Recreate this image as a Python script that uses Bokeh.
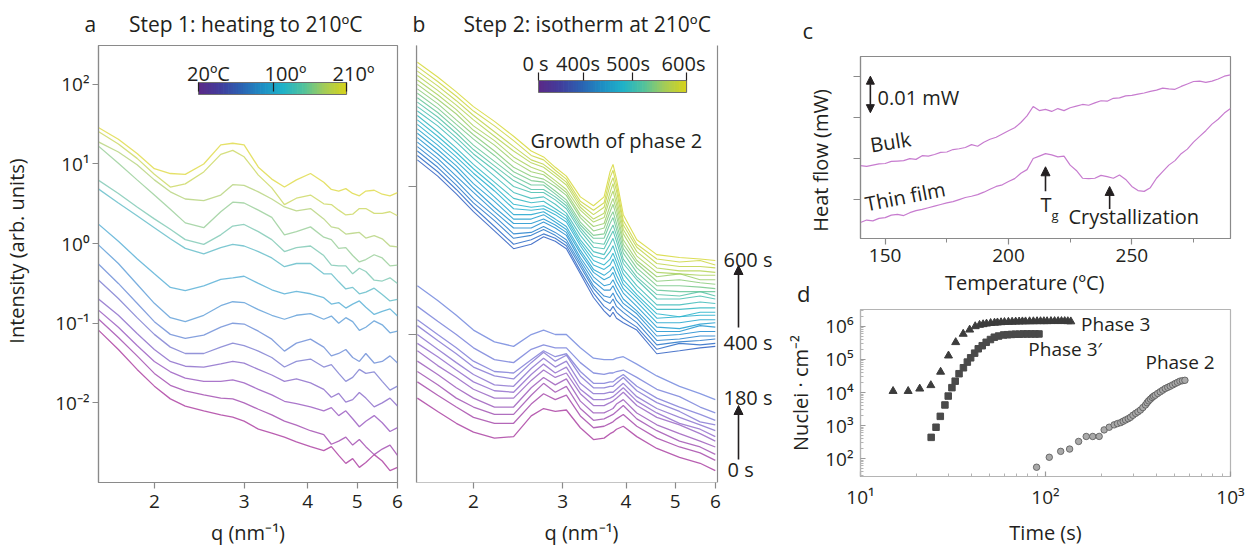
import numpy as np
from bokeh.plotting import figure
from bokeh.layouts import row, column
from bokeh.models import (Range1d, FixedTicker, CustomJSTickFormatter, Label,
                          Arrow, NormalHead, BoxAnnotation, Div)
from bokeh.embed import file_html
from bokeh.resources import INLINE

FONT = "Open Sans"
INK = "#231f20"
FRAME = "#8a8a8a"
NB = "\u00a0"

# ---------------- data: panel a (heating to 210 C), log10 intensity ----------------
a_q = [1.55, 1.7, 1.85, 2.0, 2.15, 2.3, 2.5, 2.7, 2.85, 3.0, 3.2, 3.4, 3.6, 3.8, 4.05,
       4.3, 4.45, 4.6, 4.75, 4.9, 5.05, 5.2, 5.4, 5.6, 5.8, 6.0]
# curves from 210 C (top) down to 20 C (bottom)
a_log_intensity = [
    [1.46, 1.31, 1.13, 0.94, 0.88, 0.87, 1.00, 1.24, 1.26, 1.24, 0.96, 0.81, 0.71, 0.80, 0.88, 0.77, 0.68, 0.66, 0.69, 0.63, 0.60, 0.66, 0.67, 0.62, 0.60, 0.64],
    [1.41, 1.25, 1.07, 0.87, 0.71, 0.75, 0.90, 1.12, 1.17, 1.09, 0.86, 0.70, 0.49, 0.57, 0.61, 0.50, 0.49, 0.42, 0.36, 0.37, 0.44, 0.44, 0.38, 0.38, 0.40, 0.35],
    [1.28, 1.15, 0.99, 0.80, 0.65, 0.56, 0.54, 0.61, 0.74, 0.73, 0.65, 0.56, 0.46, 0.41, 0.44, 0.31, 0.21, 0.19, 0.12, 0.13, 0.14, 0.07, 0.10, 0.06, -0.03, -0.04],
    [1.23, 1.01, 0.80, 0.61, 0.43, 0.26, 0.20, 0.40, 0.52, 0.51, 0.42, 0.33, 0.11, 0.15, 0.21, 0.08, 0.05, -0.06, -0.05, -0.15, -0.23, -0.20, -0.14, -0.18, -0.28, -0.27],
    [0.80, 0.63, 0.46, 0.31, 0.18, 0.05, -0.01, 0.11, 0.22, 0.24, 0.15, 0.05, -0.10, -0.05, -0.03, -0.15, -0.27, -0.28, -0.28, -0.38, -0.31, -0.35, -0.46, -0.47, -0.43, -0.50],
    [0.69, 0.51, 0.35, 0.20, 0.06, -0.06, -0.13, -0.05, -0.01, -0.03, -0.10, -0.18, -0.29, -0.25, -0.25, -0.38, -0.38, -0.48, -0.57, -0.55, -0.63, -0.61, -0.56, -0.64, -0.72, -0.70],
    [0.25, 0.03, -0.19, -0.38, -0.55, -0.59, -0.53, -0.45, -0.43, -0.41, -0.50, -0.58, -0.63, -0.60, -0.63, -0.68, -0.76, -0.74, -0.81, -0.76, -0.72, -0.80, -0.89, -0.85, -0.82, -0.91],
    [-0.01, -0.25, -0.51, -0.75, -0.93, -0.98, -0.90, -0.78, -0.73, -0.74, -0.83, -0.90, -0.95, -0.90, -0.88, -0.95, -0.91, -1.00, -0.93, -0.98, -1.09, -1.05, -0.97, -1.02, -1.12, -1.10],
    [-0.25, -0.50, -0.75, -0.98, -1.14, -1.19, -1.15, -1.05, -1.00, -1.01, -1.10, -1.20, -1.35, -1.25, -1.20, -1.30, -1.41, -1.38, -1.33, -1.43, -1.48, -1.38, -1.50, -1.48, -1.41, -1.50],
    [-0.45, -0.69, -0.93, -1.14, -1.30, -1.38, -1.38, -1.30, -1.25, -1.28, -1.35, -1.43, -1.55, -1.48, -1.45, -1.55, -1.52, -1.63, -1.73, -1.68, -1.58, -1.63, -1.61, -1.73, -1.84, -1.79],
    [-0.69, -0.90, -1.13, -1.33, -1.48, -1.54, -1.55, -1.51, -1.48, -1.50, -1.58, -1.65, -1.73, -1.70, -1.75, -1.83, -1.93, -1.88, -1.99, -1.96, -1.87, -1.94, -2.05, -2.00, -1.94, -2.04],
    [-0.83, -1.05, -1.28, -1.48, -1.61, -1.69, -1.73, -1.73, -1.71, -1.75, -1.83, -1.90, -1.98, -2.01, -2.05, -2.10, -2.06, -2.16, -2.10, -2.20, -2.30, -2.23, -2.16, -2.25, -2.36, -2.31],
    [-0.94, -1.18, -1.41, -1.63, -1.78, -1.85, -1.90, -1.94, -1.95, -2.00, -2.08, -2.15, -2.23, -2.28, -2.35, -2.40, -2.52, -2.48, -2.43, -2.53, -2.46, -2.55, -2.65, -2.58, -2.53, -2.66],
    [-1.08, -1.33, -1.58, -1.79, -1.95, -2.04, -2.10, -2.15, -2.18, -2.23, -2.33, -2.38, -2.43, -2.49, -2.55, -2.60, -2.55, -2.66, -2.76, -2.70, -2.81, -2.75, -2.65, -2.73, -2.85, -2.81],
]

# ---------------- data: panel b (isotherm at 210 C), log10 intensity ----------------
b_q = [1.55, 1.7, 1.85, 2.0, 2.2, 2.4, 2.6, 2.75, 2.9, 3.05, 3.25, 3.45, 3.62, 3.72, 3.77,
       3.83, 3.95, 4.2, 4.6, 5.1, 5.6, 6.0]
# 400 s (bottom of the upper family) to 600 s (top)
b_log_intensity_400_600s = [
    [0.18, 0.07, -0.05, -0.17, -0.30, -0.42, -0.39, -0.34, -0.37, -0.42, -0.59, -0.75, -0.84, -0.88, -0.85, -0.89, -0.92, -0.97, -1.13, -1.11, -1.09, -1.08],
    [0.21, 0.10, -0.02, -0.14, -0.27, -0.39, -0.36, -0.32, -0.35, -0.40, -0.57, -0.72, -0.81, -0.84, -0.81, -0.85, -0.89, -0.95, -1.10, -1.06, -1.07, -1.06],
    [0.24, 0.13, 0.01, -0.11, -0.23, -0.35, -0.33, -0.29, -0.33, -0.38, -0.54, -0.69, -0.77, -0.79, -0.76, -0.81, -0.85, -0.92, -1.07, -1.05, -1.04, -1.03],
    [0.27, 0.16, 0.04, -0.08, -0.20, -0.32, -0.31, -0.27, -0.31, -0.36, -0.52, -0.67, -0.74, -0.75, -0.72, -0.77, -0.82, -0.89, -1.04, -1.03, -1.01, -1.01],
    [0.30, 0.19, 0.07, -0.04, -0.17, -0.28, -0.28, -0.24, -0.28, -0.33, -0.50, -0.64, -0.70, -0.70, -0.67, -0.72, -0.79, -0.86, -1.01, -1.00, -0.98, -0.98],
    [0.33, 0.22, 0.11, -0.01, -0.14, -0.25, -0.25, -0.22, -0.26, -0.31, -0.48, -0.61, -0.67, -0.66, -0.63, -0.68, -0.76, -0.84, -0.98, -0.98, -0.94, -0.95],
    [0.36, 0.25, 0.14, 0.02, -0.10, -0.22, -0.22, -0.19, -0.24, -0.29, -0.45, -0.58, -0.63, -0.61, -0.58, -0.64, -0.72, -0.81, -0.95, -0.96, -0.93, -0.92],
    [0.39, 0.28, 0.17, 0.06, -0.07, -0.19, -0.19, -0.17, -0.22, -0.27, -0.43, -0.56, -0.60, -0.57, -0.54, -0.60, -0.69, -0.78, -0.92, -0.92, -0.90, -0.90],
    [0.42, 0.31, 0.20, 0.09, -0.03, -0.15, -0.16, -0.15, -0.19, -0.24, -0.40, -0.53, -0.56, -0.53, -0.49, -0.55, -0.66, -0.75, -0.89, -0.88, -0.87, -0.87],
    [0.45, 0.34, 0.23, 0.12, 0.00, -0.12, -0.14, -0.13, -0.17, -0.22, -0.38, -0.50, -0.53, -0.49, -0.45, -0.51, -0.63, -0.73, -0.86, -0.88, -0.85, -0.85],
    [0.48, 0.37, 0.26, 0.15, 0.03, -0.08, -0.11, -0.10, -0.15, -0.20, -0.36, -0.47, -0.49, -0.44, -0.40, -0.47, -0.59, -0.70, -0.83, -0.83, -0.82, -0.82],
    [0.51, 0.41, 0.30, 0.19, 0.07, -0.04, -0.08, -0.07, -0.12, -0.18, -0.33, -0.44, -0.46, -0.39, -0.35, -0.42, -0.56, -0.67, -0.80, -0.80, -0.78, -0.79],
    [0.54, 0.44, 0.33, 0.22, 0.11, 0.00, -0.04, -0.04, -0.09, -0.15, -0.30, -0.41, -0.42, -0.34, -0.30, -0.37, -0.52, -0.63, -0.76, -0.76, -0.74, -0.76],
    [0.57, 0.47, 0.36, 0.25, 0.14, 0.04, -0.02, -0.02, -0.07, -0.13, -0.28, -0.38, -0.39, -0.30, -0.26, -0.33, -0.49, -0.61, -0.73, -0.74, -0.71, -0.74],
    [0.60, 0.50, 0.39, 0.28, 0.17, 0.07, 0.01, 0.01, -0.05, -0.11, -0.26, -0.35, -0.35, -0.25, -0.21, -0.29, -0.45, -0.58, -0.70, -0.71, -0.71, -0.71],
    [0.63, 0.53, 0.42, 0.32, 0.21, 0.10, 0.04, 0.03, -0.03, -0.09, -0.24, -0.33, -0.32, -0.21, -0.17, -0.25, -0.42, -0.55, -0.67, -0.67, -0.68, -0.69],
    [0.66, 0.56, 0.45, 0.35, 0.24, 0.13, 0.07, 0.05, 0.00, -0.06, -0.21, -0.30, -0.28, -0.17, -0.12, -0.20, -0.39, -0.52, -0.64, -0.63, -0.65, -0.66],
    [0.69, 0.59, 0.49, 0.38, 0.28, 0.17, 0.10, 0.08, 0.02, -0.04, -0.19, -0.27, -0.25, -0.13, -0.08, -0.16, -0.36, -0.50, -0.61, -0.59, -0.63, -0.63],
    [0.72, 0.62, 0.52, 0.41, 0.31, 0.20, 0.13, 0.10, 0.04, -0.02, -0.16, -0.24, -0.21, -0.08, -0.03, -0.12, -0.32, -0.47, -0.58, -0.59, -0.60, -0.60],
    [0.75, 0.65, 0.55, 0.45, 0.34, 0.24, 0.16, 0.13, 0.07, 0.01, -0.14, -0.22, -0.18, -0.04, 0.02, -0.08, -0.29, -0.44, -0.55, -0.57, -0.57, -0.58],
    [0.78, 0.68, 0.58, 0.48, 0.37, 0.27, 0.18, 0.15, 0.09, 0.03, -0.12, -0.19, -0.14, 0.01, 0.06, -0.03, -0.26, -0.41, -0.52, -0.54, -0.54, -0.55],
    [0.81, 0.71, 0.61, 0.51, 0.41, 0.31, 0.21, 0.18, 0.11, 0.05, -0.10, -0.16, -0.11, 0.06, 0.11, 0.01, -0.23, -0.39, -0.49, -0.51, -0.50, -0.53],
    [0.84, 0.74, 0.64, 0.54, 0.44, 0.34, 0.24, 0.20, 0.13, 0.07, -0.07, -0.13, -0.07, 0.10, 0.15, 0.05, -0.19, -0.36, -0.46, -0.48, -0.49, -0.50],
]
# 180 s (top of the lower family) to 0 s (bottom)
b_log_intensity_0_180s = [
    [-0.67, -0.77, -0.87, -0.97, -1.05, -1.08, -1.00, -0.97, -1.00, -1.00, -1.09, -1.16, -1.17, -1.17, -1.17, -1.16, -1.15, -1.20, -1.28, -1.35, -1.40, -1.44],
    [-0.81, -0.91, -1.00, -1.09, -1.17, -1.19, -1.10, -1.07, -1.09, -1.09, -1.19, -1.26, -1.27, -1.26, -1.26, -1.25, -1.24, -1.29, -1.37, -1.42, -1.49, -1.53],
    [-0.90, -1.00, -1.09, -1.18, -1.25, -1.26, -1.17, -1.11, -1.15, -1.13, -1.25, -1.33, -1.33, -1.32, -1.32, -1.30, -1.27, -1.35, -1.43, -1.49, -1.54, -1.58],
    [-0.94, -1.04, -1.13, -1.22, -1.28, -1.30, -1.19, -1.12, -1.18, -1.14, -1.28, -1.36, -1.36, -1.35, -1.35, -1.33, -1.29, -1.38, -1.46, -1.52, -1.59, -1.61],
    [-1.00, -1.10, -1.19, -1.27, -1.34, -1.35, -1.23, -1.16, -1.22, -1.18, -1.33, -1.40, -1.40, -1.39, -1.39, -1.37, -1.33, -1.42, -1.50, -1.56, -1.61, -1.65],
    [-1.06, -1.15, -1.24, -1.32, -1.38, -1.39, -1.27, -1.20, -1.26, -1.22, -1.37, -1.44, -1.44, -1.43, -1.42, -1.40, -1.36, -1.45, -1.53, -1.60, -1.64, -1.69],
    [-1.11, -1.21, -1.29, -1.37, -1.43, -1.43, -1.31, -1.24, -1.29, -1.26, -1.40, -1.48, -1.48, -1.46, -1.45, -1.43, -1.39, -1.48, -1.56, -1.61, -1.67, -1.72],
    [-1.18, -1.27, -1.36, -1.43, -1.49, -1.49, -1.36, -1.29, -1.34, -1.30, -1.45, -1.53, -1.53, -1.51, -1.50, -1.47, -1.44, -1.53, -1.61, -1.67, -1.72, -1.76],
    [-1.25, -1.34, -1.43, -1.49, -1.54, -1.54, -1.41, -1.33, -1.39, -1.35, -1.50, -1.58, -1.57, -1.55, -1.54, -1.52, -1.48, -1.57, -1.65, -1.72, -1.76, -1.81],
    [-1.32, -1.41, -1.49, -1.56, -1.60, -1.60, -1.47, -1.40, -1.44, -1.41, -1.55, -1.63, -1.62, -1.60, -1.59, -1.57, -1.54, -1.62, -1.70, -1.76, -1.80, -1.85],
    [-1.43, -1.52, -1.60, -1.66, -1.70, -1.69, -1.55, -1.50, -1.52, -1.51, -1.63, -1.71, -1.70, -1.67, -1.66, -1.64, -1.62, -1.69, -1.77, -1.83, -1.87, -1.92],
]

# ---------------- data: panel c (DSC), heat flow in mW ----------------
dsc_temperature = [140, 142.5, 145, 147.5, 150, 152.5, 155, 157.5, 160, 162.5, 165, 167.5, 170,
                   172.5, 175, 177.5, 180, 182.5, 185, 187.5, 190, 192.5, 195, 197.5, 200, 202.5,
                   205, 207.5, 210, 212.5, 215, 217.5, 220, 222.5, 225, 227.5, 230, 232.5, 235,
                   237.5, 240, 242.5, 245, 247.5, 250, 252.5, 255, 257.5, 260, 262.5, 265, 267.5,
                   270, 272.5, 275, 277.5, 280, 282.5, 285, 287.5, 290]
dsc_bulk = [0.0182, 0.0180, 0.0183, 0.0186, 0.0187, 0.0192, 0.0193, 0.0194, 0.0199, 0.0197, 0.0206,
            0.0205, 0.0209, 0.0214, 0.0215, 0.0221, 0.0223, 0.0226, 0.0233, 0.0229, 0.0239, 0.0246,
            0.0251, 0.0259, 0.0267, 0.0274, 0.0287, 0.0303, 0.0326, 0.0316, 0.0319, 0.0314, 0.0321,
            0.0316, 0.0323, 0.0327, 0.0331, 0.0329, 0.0335, 0.0340, 0.0339, 0.0346, 0.0347, 0.0352,
            0.0353, 0.0356, 0.0359, 0.0363, 0.0366, 0.0371, 0.0369, 0.0368, 0.0375, 0.0381, 0.0387,
            0.0388, 0.0385, 0.0388, 0.0393, 0.0400, 0.0403]
dsc_thin_film = [0.0043, 0.0049, 0.0047, 0.0053, 0.0055, 0.0061, 0.0063, 0.0060, 0.0067, 0.0072,
                 0.0075, 0.0079, 0.0083, 0.0087, 0.0091, 0.0094, 0.0099, 0.0104, 0.0107, 0.0111,
                 0.0117, 0.0124, 0.0131, 0.0135, 0.0143, 0.0150, 0.0163, 0.0172, 0.0199, 0.0205,
                 0.0211, 0.0208, 0.0203, 0.0205, 0.0183, 0.0170, 0.0151, 0.0150, 0.0151, 0.0158,
                 0.0155, 0.0151, 0.0159, 0.0148, 0.0131, 0.0121, 0.0119, 0.0128, 0.0151, 0.0167,
                 0.0183, 0.0194, 0.0211, 0.0222, 0.0239, 0.0253, 0.0267, 0.0283, 0.0295, 0.0310,
                 0.0321]

# ---------------- data: panel d (nuclei density vs time) ----------------
phase3_time = [15.0, 18.1, 20.9, 24.0, 27.1, 29.9, 32.7, 35.9, 38.9, 41.7, 44, 46, 48, 50.5, 53,
               55, 57.5, 60, 63, 66, 69, 72, 75, 78, 82, 86, 90, 94, 98, 102, 107, 112, 117, 122,
               127, 132, 137]
phase3_nuclei = [1.1e4, 1.1e4, 1.3e4, 1.65e4, 4.2e4, 1.3e5, 3.3e5, 5.9e5, 7.9e5, 1.0e6, 1.1e6,
                 1.15e6, 1.2e6, 1.25e6, 1.28e6, 1.3e6, 1.32e6, 1.34e6, 1.36e6, 1.37e6, 1.38e6,
                 1.39e6, 1.4e6, 1.4e6, 1.41e6, 1.41e6, 1.42e6, 1.42e6, 1.42e6, 1.42e6, 1.43e6,
                 1.43e6, 1.43e6, 1.43e6, 1.43e6, 1.42e6, 1.40e6]
phase3p_time = [24.1, 25.6, 27.0, 28.6, 29.8, 31.2, 32.5, 34.1, 36.0, 37.8, 39.4, 41.4, 43.3, 45.5,
                47.8, 50.4, 52.9, 55.8, 59.4, 62.4, 65.5, 68.8, 72.2, 75.8, 79.6, 83.6, 87.8, 92.2]
phase3p_nuclei = [440, 890, 1.9e3, 4.2e3, 7.8e3, 1.4e4, 2.2e4, 3.7e4, 5.6e4, 8.3e4, 1.12e5, 1.55e5,
                  2.1e5, 2.6e5, 3.3e5, 4.0e5, 4.7e5, 5.1e5, 5.5e5, 5.6e5, 5.7e5, 5.8e5, 5.8e5,
                  5.9e5, 5.9e5, 5.9e5, 5.9e5, 5.9e5]
phase2_time = [89.5, 104.8, 120.8, 135, 151, 166, 180, 195, 207.5, 221, 235, 245, 255, 263, 271,
               280, 288, 297, 307, 316, 326, 336, 347, 354, 361, 369, 377, 384, 392, 404, 417, 430,
               444, 458, 472, 487, 502, 517, 533, 550, 567]
phase2_nuclei = [55, 110, 166, 195, 331, 468, 468, 470, 741, 891, 1.05e3, 1.15e3, 1.23e3, 1.35e3,
                 1.48e3, 1.62e3, 1.78e3, 2.05e3, 2.34e3, 2.6e3, 2.95e3, 3.5e3, 4.2e3, 4.9e3, 5.6e3,
                 6.3e3, 7.1e3, 7.7e3, 8.3e3, 9.4e3, 1.05e4, 1.18e4, 1.32e4, 1.43e4, 1.55e4, 1.7e4,
                 1.86e4, 2.02e4, 2.2e4, 2.28e4, 2.34e4]

# ---------------- ticks and text ----------------
q_ticks = [2, 3, 4, 5, 6]
a_y_ticks = [1e-2, 1e-1, 1, 10, 100]
b_y_ticks = [0.1, 1]
dsc_x_ticks = [150, 200, 250]
dsc_x_minor = [175, 225, 275]
dsc_y_ticks = [0.01, 0.02, 0.03, 0.04]
d_x_ticks = [10, 100, 1000]
d_y_ticks = [1e2, 1e3, 1e4, 1e5, 1e6]
a_colorbar_labels = ["20ºC", "100º", "210º"]
b_colorbar_labels = ["0 s", "400s", "500s", "600s"]
b_time_labels = ["600 s", "400 s", "180 s", "0 s"]


# ---------------- helpers (styling only) ----------------
def ramp(anchors, n):
    rgb = np.array([[int(a[i:i + 2], 16) for i in (1, 3, 5)] for a in anchors], float)
    pos = np.linspace(0, 1, len(anchors))
    out = []
    for t in np.linspace(0, 1, n):
        c = [int(round(np.interp(t, pos, rgb[:, k]))) for k in range(3)]
        out.append("#%02x%02x%02x" % tuple(c))
    return out


def sup_fmt():
    return CustomJSTickFormatter(code="""
const s = {"-":"⁻","0":"⁰","1":"¹","2":"²","3":"³","4":"⁴","5":"⁵","6":"⁶","7":"⁷","8":"⁸","9":"⁹"};
const e = Math.round(Math.log10(tick));
return "10" + String(e).split("").map(c => s[c]).join("");
""")


def blank_fmt():
    return CustomJSTickFormatter(code='return "";')


def base_fig(width, height, left, right, top, bottom, **kw):
    p = figure(width=width, height=height, min_border_left=left, min_border_right=right,
               min_border_top=top, min_border_bottom=bottom, output_backend="svg",
               toolbar_location=None, **kw)
    p.grid.visible = False
    p.outline_line_color = FRAME
    p.outline_line_width = 1.2
    p.background_fill_color = "white"
    p.border_fill_color = "white"
    for ax in p.axis:
        ax.axis_line_color = FRAME
        ax.axis_line_width = 1.2
        ax.major_tick_line_color = FRAME
        ax.major_tick_line_width = 1.2
        ax.minor_tick_line_color = None
        ax.major_tick_out = 6
        ax.major_tick_in = 0
        ax.major_label_text_font = FONT
        ax.major_label_text_font_size = "19px"
        ax.major_label_text_color = INK
        ax.major_label_standoff = 4
        ax.axis_label_text_font = FONT
        ax.axis_label_text_font_size = "20px"
        ax.axis_label_text_font_style = "normal"
        ax.axis_label_text_color = INK
    p.title.text_font = FONT
    p.title.text_font_size = "20px"
    p.title.text_font_style = "normal"
    p.title.text_color = INK
    p.title.align = "left"
    return p


def text(p, x, y, s, size=20, units="screen", align="left", angle=0.0):
    p.add_layout(Label(x=x, y=y, x_units=units, y_units=units, text=s, text_font=FONT,
                       text_font_size=f"{size}px", text_color=INK, text_align=align,
                       text_baseline="middle", angle=angle))


def arrow(p, x0, y0, x1, y1, units="screen", both=False, size=9):
    head = lambda: NormalHead(size=size, fill_color=INK, line_color=INK, line_width=1)
    p.add_layout(Arrow(x_start=x0, y_start=y0, x_end=x1, y_end=y1, start_units=units,
                       end_units=units, end=head(), start=head() if both else None,
                       line_color=INK, line_width=1.6))


def sbox(p, l, r, b, t, fill=None, line=None, lw=1.0):
    p.add_layout(BoxAnnotation(left=l, right=r, bottom=b, top=t, left_units="screen",
                               right_units="screen", bottom_units="screen", top_units="screen",
                               fill_color=fill, fill_alpha=1.0 if fill else 0.0,
                               line_color=line, line_width=lw, line_alpha=1.0 if line else 0.0))


CBAR = ["#5a2a88", "#413d9c", "#2b62b2", "#1e8ec4", "#1fb2c8", "#52c29c", "#a4cc58", "#d4d21c"]


def colorbar(p, x0, x1, y0, y1, n=60):
    cols = ramp(CBAR, n)
    w = (x1 - x0) / n
    for i, c in enumerate(cols):
        sbox(p, x0 + i * w, x0 + (i + 1) * w + 0.7, y0, y1, fill=c)
    sbox(p, x0, x1, y0, y1, line="#6f6f6f", lw=1)


# ================= panel a =================
pa = base_fig(405, 548, 97, 8, 43, 66, x_axis_type="log", y_axis_type="log",
              x_range=Range1d(1.554, 6.0), y_range=Range1d(1e-3, 10 ** 2.4875))
pa.title.text = "a" + NB * 6 + "Step 1: heating to 210ºC"
pa.title.offset = -14
pa.title.text_font_size = "21px"
pa.title.standoff = 15
pa.xaxis.ticker = FixedTicker(ticks=q_ticks, minor_ticks=[])
pa.xaxis.formatter = CustomJSTickFormatter(code="return String(tick);")
pa.xaxis.major_label_standoff = 6
pa.xaxis.axis_label = "q (nm⁻¹)"
pa.xaxis.axis_label_standoff = 8
pa.yaxis.ticker = FixedTicker(ticks=a_y_ticks, minor_ticks=[])
pa.yaxis.formatter = sup_fmt()
pa.yaxis.major_label_standoff = 3
pa.yaxis.axis_label = NB * 5 + "Intensity (arb. units)"
pa.yaxis.axis_label_standoff = 22
a_colors = ramp(["#e2de58", "#c0d884", "#90d0b4", "#62bcd8", "#70a0dc", "#8c84d4",
                 "#a466c4", "#b24ea8"], len(a_log_intensity))
for L, c in zip(a_log_intensity, a_colors):
    pa.line(a_q, 10 ** np.array(L), line_color=c, line_width=1.3, line_alpha=0.9)
colorbar(pa, 100, 248, 388, 400)
for x in (100, 175, 248):
    sbox(pa, x - 0.6, x + 0.6, 391, 400, fill=INK)
for x, s in zip((110, 187, 255), a_colorbar_labels):
    text(pa, x, 409, s, size=20, align="center")

# ================= panel b (frame widened to hold the time annotations) =================
pb = base_fig(375, 548, 11, 8, 45, 63, x_axis_type="log", y_axis_type="log",
              x_range=Range1d(1.544, 7.78), y_range=Range1d(1e-2, 10 ** 0.953))
pb.outline_line_color = None
pb.title.text = "b" + NB * 7 + "Step 2: isotherm at 210ºC"
pb.title.offset = -4
pb.title.text_font_size = "21px"
pb.title.standoff = 15
pb.xaxis.ticker = FixedTicker(ticks=q_ticks, minor_ticks=[])
pb.xaxis.formatter = CustomJSTickFormatter(code="return String(tick);")
pb.xaxis.major_label_standoff = 6
pb.xaxis.axis_line_color = None
pb.xaxis.axis_label = "q (nm⁻¹)" + NB * 5
pb.xaxis.axis_label_standoff = 8
pb.yaxis.ticker = FixedTicker(ticks=b_y_ticks, minor_ticks=[])
pb.yaxis.formatter = blank_fmt()
pb.yaxis.major_label_standoff = 0
pb.yaxis.major_tick_out = 8
sbox(pb, 0, 301, 0, 440, line=FRAME, lw=1.2)
early_colors = ramp(["#7c90e0", "#9a78d0", "#b04ea8"], len(b_log_intensity_0_180s))
for L, c in zip(b_log_intensity_0_180s, early_colors):
    pb.line(b_q, 10 ** np.array(L), line_color=c, line_width=1.3, line_alpha=0.9)
late_colors = ramp(["#2e5fc2", "#1d8fd0", "#22b2cc", "#56c2a4", "#a6d060", "#d6d838"],
                   len(b_log_intensity_400_600s))
for L, c in zip(b_log_intensity_400_600s, late_colors):
    pb.line(b_q, 10 ** np.array(L), line_color=c, line_width=1.1, line_alpha=0.85)
text(pb, 114, 342, "Growth of phase 2", size=20)
colorbar(pb, 122, 270, 390, 402)
for x in (122, 167, 216, 270):
    sbox(pb, x - 0.6, x + 0.6, 402, 410, fill=INK)
for x, s in zip((119, 161.5, 211.5, 267), b_colorbar_labels):
    text(pb, x, 419, s, size=20, align="center")
for (x, y), s in zip(((307, 223), (307, 140), (307, 85), (311, 13)), b_time_labels):
    text(pb, x, y, s, size=20)
arrow(pb, 322, 155, 322, 217)
arrow(pb, 322, 23, 322, 77)

# ================= panel c =================
pc = base_fig(470, 272, 80, 20, 53, 34, x_range=Range1d(140, 290),
              y_range=Range1d(0.0004, 0.0448))
pc.title.text = "c"
pc.title.offset = -58
pc.title.text_font_size = "22px"
pc.title.standoff = 24
pc.xaxis.ticker = FixedTicker(ticks=dsc_x_ticks, minor_ticks=dsc_x_minor)
pc.xaxis.minor_tick_line_color = FRAME
pc.xaxis.minor_tick_out = 4
pc.xaxis.minor_tick_in = 0
pc.yaxis.ticker = FixedTicker(ticks=dsc_y_ticks, minor_ticks=[])
pc.yaxis.formatter = blank_fmt()
pc.yaxis.major_label_standoff = 0
pc.yaxis.major_tick_out = 7
pc.yaxis.axis_label = "Heat flow (mW)" + NB * 5
pc.yaxis.axis_label_standoff = 20
pc.line(dsc_temperature, dsc_bulk, line_color="#c77ccf", line_width=1.2)
pc.line(dsc_temperature, dsc_thin_film, line_color="#c77ccf", line_width=1.2)
arrow(pc, 144, 0.0311, 144, 0.0400, units="data", both=True, size=8)
text(pc, 146.9, 0.0349, "0.01 mW", size=20, units="data")
text(pc, 144, 0.0232, "Bulk", size=20, units="data", angle=0.16)
text(pc, 142, 0.0088, "Thin film", size=20, units="data", angle=0.19)
text(pc, 213, 0.0086, "T", size=20, units="data")
text(pc, 217.4, 0.0062, "g", size=13, units="data")
text(pc, 224.3, 0.0057, "Crystallization", size=20, units="data")
arrow(pc, 215, 0.0119, 215, 0.0179, units="data")
arrow(pc, 241, 0.0076, 241, 0.0131, units="data")

# strip between panels c and d: x-axis title of panel c and the letter of panel d
strip = Div(
    text=("<div style=\"position:relative;width:470px;height:32px;font-family:'Open Sans';"
          "font-size:20px;line-height:24px;color:#231f20;white-space:nowrap;\">"
          "<span style=\"position:absolute;left:17px;top:9px;font-size:22px;\">d</span>"
          "<span style=\"position:absolute;left:165px;top:-1px;\">Temperature (ºC)</span>"
          "</div>"),
    width=470, height=32, margin=0, styles={"overflow": "visible"})

# ================= panel d =================
pdd = base_fig(470, 244, 77, 19, 5, 71, x_axis_type="log", y_axis_type="log",
               x_range=Range1d(10, 1000), y_range=Range1d(10 ** 1.46, 10 ** 6.51))
pdd.outline_line_color = "#b4b4b4"
pdd.xaxis.ticker = FixedTicker(ticks=d_x_ticks,
                               minor_ticks=[k * 10 ** e for e in (1, 2) for k in range(2, 10)])
pdd.yaxis.ticker = FixedTicker(ticks=d_y_ticks,
                               minor_ticks=[k * 10 ** e for e in (1, 2, 3, 4, 5, 6) for k in range(2, 10)])
for ax in pdd.axis:
    ax.formatter = sup_fmt()
    ax.axis_line_color = "#b4b4b4"
    ax.major_tick_line_color = "#9a9a9a"
    ax.major_tick_in = 5
    ax.major_tick_out = 0
    ax.minor_tick_line_color = "#b4b4b4"
    ax.minor_tick_in = 3
    ax.minor_tick_out = 0
    ax.major_label_standoff = 7
pdd.xaxis.axis_label = "Time (s)"
pdd.xaxis.axis_label_standoff = 6
pdd.yaxis.axis_label = "Nuclei · cm⁻²"
pdd.yaxis.axis_label_standoff = 8
pdd.scatter(phase3_time, phase3_nuclei, marker="triangle", size=8, fill_color="#3c3c3c",
            line_color="#3c3c3c")
pdd.scatter(phase3p_time, phase3p_nuclei, marker="square", size=6.5, fill_color="#4a4a4a",
            line_color="#4a4a4a")
pdd.scatter(phase2_time, phase2_nuclei, marker="circle", size=6.5, fill_color="#a9a9a9",
            line_color="#555555", line_width=0.8)
text(pdd, 155.8, 1.2e6, "Phase 3", size=19, units="data")
text(pdd, 80.8, 2.04e5, "Phase 3′", size=19, units="data")
text(pdd, 347, 8.5e4, "Phase 2", size=19, units="data")

layout = row(pa, pb, column(pc, strip, pdd))
open("out.html", "w").write(file_html(layout, INLINE))
